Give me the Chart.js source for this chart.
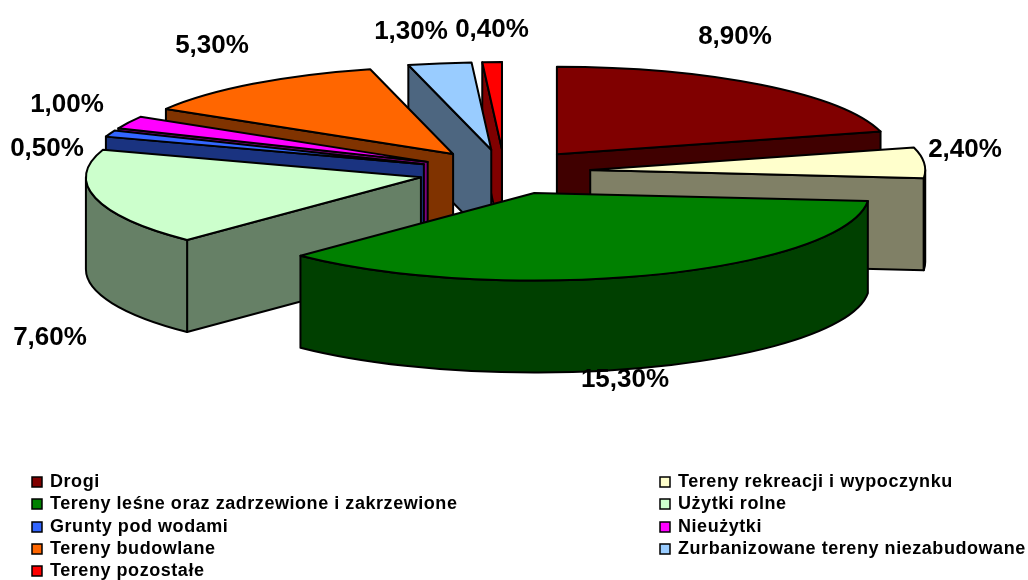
<!DOCTYPE html>
<html>
<head>
<meta charset="utf-8">
<style>html,body{margin:0;padding:0;background:#fff}#wrap{width:1028px;height:580px}</style>
<script src="https://cdn.jsdelivr.net/npm/chart.js@4"></script>
</head>
<body>
<div id="wrap"><canvas id="c" width="1028" height="580"></canvas></div>
<script>
const categories = ["Drogi","Tereny rekreacji i wypoczynku","Tereny leśne oraz zadrzewione i zakrzewione","Użytki rolne","Grunty pod wodami","Nieużytki","Tereny budowlane","Zurbanizowane tereny niezabudowane","Tereny pozostałe"];
const values = [8.9,2.4,15.3,7.6,0.5,1.0,5.3,1.3,0.4];
const topColors = ["#800000","#FFFFCC","#008000","#CCFFCC","#3366FF","#FF00FF","#FF6600","#99CCFF","#FF0000"];
const wallColors = ["#400000","#808066","#004000","#668066","#1A3380","#800080","#803300","#4D6680","#800000"];
const rimColors = ["#400000","#222222","#004000","#668066","#1A3380","#800080","#803300","#4D6680","#800000"];
const labelCenters = [[735,35],[965,148],[625,378],[50,336],[47,147],[67,103],[212,44],[411,30],[492,28]];
const legendSlots = [[32,482],[660,482],[32,504],[660,504],[32,527],[660,527],[32,549],[660,549],[32,571]];
const view = {cx:504.5, cy:172, rx:335, ry:87.5, depth:92};

const pie3d = {
  id:'pie3d',
  beforeDatasetsDraw(chart){
    const ctx = chart.ctx, meta = chart.getDatasetMeta(0);
    const slices = meta.data.map((arc,i)=>{
      const a = arc.startAngle, b = arc.endAngle, mid=(a+b)/2;
      const s = view.rx/arc.outerRadius, off = arc.options.offset||0;
      const ax = view.cx + s*Math.cos(mid)*off;
      const ay = view.cy + (view.ry/view.rx)*s*Math.sin(mid)*off;
      return {i,a,b,ax,ay};
    }).sort((p,q)=>p.ay-q.ay);
    ctx.save();
    ctx.lineWidth = 2; ctx.strokeStyle = '#000'; ctx.lineJoin='round';
    const pt=(sl,t)=>[sl.ax+view.rx*Math.cos(t), sl.ay+view.ry*Math.sin(t)];
    const wall=(sl,t,col)=>{
      const p=pt(sl,t), d=view.depth;
      ctx.beginPath(); ctx.moveTo(sl.ax,sl.ay); ctx.lineTo(p[0],p[1]); ctx.lineTo(p[0],p[1]+d); ctx.lineTo(sl.ax,sl.ay+d); ctx.closePath();
      ctx.fillStyle=col; ctx.fill(); ctx.stroke();
    };
    slices.forEach(sl=>{
      const d=view.depth;
      if(Math.cos(sl.a)<0) wall(sl,sl.a,wallColors[sl.i]);
      if(Math.cos(sl.b)>0) wall(sl,sl.b,wallColors[sl.i]);
      const t0=Math.max(sl.a,0), t1=Math.min(sl.b,Math.PI);
      if(t1>t0){
        ctx.beginPath();
        ctx.ellipse(sl.ax,sl.ay,view.rx,view.ry,0,t0,t1,false);
        ctx.ellipse(sl.ax,sl.ay+d,view.rx,view.ry,0,t1,t0,true);
        ctx.closePath();
        ctx.fillStyle=rimColors[sl.i]; ctx.fill(); ctx.stroke();
      }
      ctx.beginPath(); ctx.moveTo(sl.ax,sl.ay);
      ctx.ellipse(sl.ax,sl.ay,view.rx,view.ry,0,sl.a,sl.b,false);
      ctx.closePath();
      ctx.fillStyle=topColors[sl.i]; ctx.fill(); ctx.stroke();
    });
    ctx.restore();
    return false;
  },
  afterDraw(chart){
    const ctx=chart.ctx;
    ctx.save();
    ctx.fillStyle='#000'; ctx.textAlign='center'; ctx.textBaseline='middle';
    ctx.font='bold 26px "Liberation Sans", Arial, sans-serif';
    values.forEach((v,i)=>ctx.fillText(v.toFixed(2).replace('.',',')+'%',labelCenters[i][0],labelCenters[i][1]+1.5));
    ctx.textAlign='left';
    ctx.font='bold 18px "Liberation Sans", Arial, sans-serif';
    ctx.letterSpacing='0.55px';
    categories.forEach((c,i)=>{
      const [x,y]=legendSlots[i];
      ctx.fillStyle=topColors[i]; ctx.strokeStyle='#000'; ctx.lineWidth=1.5;
      ctx.fillRect(x,y-5,10,10); ctx.strokeRect(x,y-5,10,10);
      ctx.fillStyle='#000'; ctx.fillText(c,x+18,y+0.5);
    });
    ctx.restore();
  }
};

new Chart(document.getElementById('c'),{
  type:'pie',
  data:{labels:categories,datasets:[{data:values,backgroundColor:topColors,borderColor:'#000',borderWidth:0,offset:66}]},
  options:{responsive:false,animation:false,layout:{padding:0},plugins:{legend:{display:false},tooltip:{enabled:false}}},
  plugins:[pie3d]
});
</script>
</body>
</html>
